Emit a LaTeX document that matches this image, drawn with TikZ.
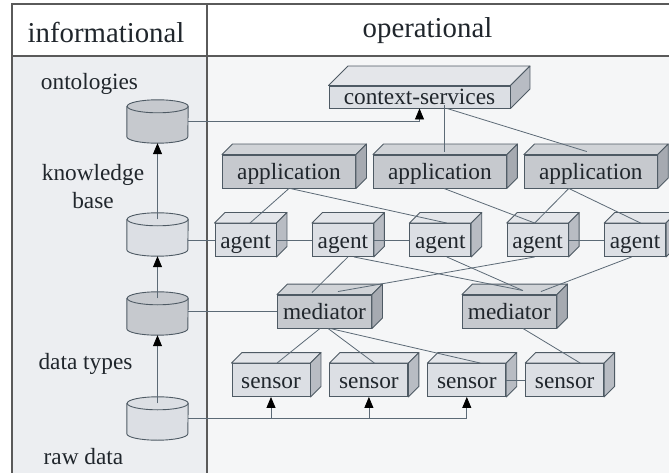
\documentclass[tikz,border=0pt]{standalone}
\usepackage{fontspec}
\setmainfont{Liberation Serif}
\definecolor{cinzaMoldura}{RGB}{90,90,90}
\definecolor{fundoInfo}{RGB}{236,238,241}
\definecolor{fundoOper}{RGB}{245,246,247}
\definecolor{bordaCaixa}{RGB}{78,90,100}
\definecolor{claroFrente}{RGB}{220,223,228}
\definecolor{claroTopo}{RGB}{228,230,234}
\definecolor{claroLado}{RGB}{184,188,195}
\definecolor{escuroFrente}{RGB}{198,201,206}
\definecolor{escuroTopo}{RGB}{208,211,215}
\definecolor{escuroLado}{RGB}{166,170,177}
\definecolor{linhaLig}{RGB}{92,106,118}
\definecolor{textoEsc}{RGB}{32,38,44}
\usetikzlibrary{arrows.meta,positioning,calc}
\tikzset{
  caixa/.style={rectangle, draw=bordaCaixa, line width=0.9pt, fill=claroFrente,
                inner sep=0pt, minimum height=33pt, text height=16pt, text depth=0pt,
                font=\fontsize{23.3}{28}\selectfont, text=textoEsc},
  caixaesc/.style={caixa, fill=escuroFrente},
  face/.style={draw=bordaCaixa, line width=0.9pt, line join=round, fill=#1},
  banco/.style={rectangle, inner sep=0pt, minimum width=61pt, minimum height=43pt},
  moldura/.style={draw=cinzaMoldura, line width=1.2pt},
  liga/.style={draw=linhaLig, line width=0.8pt},
  subida/.style={liga, -{Triangle[length=11pt,width=9pt,color=black]}},
  rotulo/.style={font=\fontsize{23.3}{28}\selectfont, text=textoEsc, inner sep=0pt},
  titulo/.style={font=\fontsize{28.8}{34}\selectfont, text=textoEsc, inner sep=0pt},
}
\begin{document}
\begin{tikzpicture}[x=1pt, y=-1pt]
  \useasboundingbox (0,0) rectangle (669,473);
  \fill[white] (0,0) rectangle (669,473);
  \fill[fundoInfo] (12,56) rectangle (207,473);
  \fill[fundoOper] (207,56) rectangle (669,473);
  \draw[moldura] (669,4) -- (12,4) -- (12,473);
  \draw[moldura] (12,56) -- (669,56);
  \draw[moldura] (207,4) -- (207,473);

  \node[titulo, anchor=base] (tinfo) at (106,43) {informational};
  \node[titulo, anchor=base] (toper) at (427.5,38) {operational};

  \node[rotulo, anchor=base] (lont) at (89.5,90) {ontologies};
  \node[rotulo, anchor=north, align=center] (lkb) at (93,164) {knowledge\\base};
  \node[rotulo, anchor=base] (ldt) at (85.5,369) {data types};
  \node[rotulo, anchor=base] (lraw) at (83.5,464) {raw data};

  \node[banco] (ont) at (157.5,121.5) {};
  \node[banco] (kb) at (157.5,234.5) {};
  \node[banco] (dtyp) at (157.5,313.5) {};
  \node[banco] (raw) at (157.5,418.5) {};
  \foreach \n/\c in {ont/escuroFrente, kb/claroFrente, dtyp/escuroFrente, raw/claroFrente}{
    \draw[face=\c] ([yshift=-6.5pt]\n.north west) -- ([yshift=6.5pt]\n.south west)
      arc[start angle=180, end angle=360, x radius=30.5pt, y radius=6.5pt]
      -- ([yshift=-6.5pt]\n.north east)
      arc[start angle=0, end angle=180, x radius=30.5pt, y radius=6.5pt] -- cycle;
    \draw[bordaCaixa, line width=0.9pt] ([yshift=-6.5pt]\n.north east)
      arc[start angle=0, end angle=-180, x radius=30.5pt, y radius=6.5pt];
  }
  \draw[subida] ([yshift=-6.5pt]kb.north) -- (ont.south);
  \draw[subida] ([yshift=-6.5pt]dtyp.north) -- (kb.south);
  \draw[subida] ([yshift=-6.5pt]raw.north) -- (dtyp.south);

  \node[caixa, minimum width=181pt, minimum height=22pt] (cs) at (419.5,97) {context-services};

  \node[caixaesc, minimum width=133pt] (app1) at (289,171.5) {application};
  \node[caixaesc, minimum width=133pt, right=17pt of app1] (app2) {application};
  \node[caixaesc, minimum width=133pt, right=17pt of app2] (app3) {application};

  \node[caixa, minimum width=61pt] (ag1) at (245.5,240) {agent};
  \node[caixa, minimum width=61pt, right=35.5pt of ag1] (ag2) {agent};
  \node[caixa, minimum width=61pt, right=35.5pt of ag2] (ag3) {agent};
  \node[caixa, minimum width=61pt, right=35.5pt of ag3] (ag4) {agent};
  \node[caixa, minimum width=61pt, right=35.5pt of ag4] (ag5) {agent};

  \node[caixaesc, minimum width=94pt] (med1) at (324.5,311.5) {mediator};
  \node[caixaesc, minimum width=94pt, right=90pt of med1] (med2) {mediator};

  \node[caixa, minimum width=78pt] (sen1) at (271,380) {sensor};
  \node[caixa, minimum width=78pt, right=19pt of sen1] (sen2) {sensor};
  \node[caixa, minimum width=78pt, right=19pt of sen2] (sen3) {sensor};
  \node[caixa, minimum width=78pt, right=19pt of sen3] (sen4) {sensor};

  \draw[face=claroTopo] (cs.north west) -- ++(19.5pt,19.5pt)
    -- ([shift={(19.5pt,19.5pt)}]cs.north east) -- (cs.north east) -- cycle;
  \draw[face=claroLado] (cs.north east) -- ++(19.5pt,19.5pt)
    -- ([shift={(19.5pt,19.5pt)}]cs.south east) -- (cs.south east) -- cycle;
  \foreach \n in {app1,app2,app3,med1,med2}{
    \draw[face=escuroTopo] (\n.north west) -- ++(10.5pt,10.5pt)
      -- ([shift={(10.5pt,10.5pt)}]\n.north east) -- (\n.north east) -- cycle;
    \draw[face=escuroLado] (\n.north east) -- ++(10.5pt,10.5pt)
      -- ([shift={(10.5pt,10.5pt)}]\n.south east) -- (\n.south east) -- cycle;
  }
  \foreach \n in {ag1,ag2,ag3,ag4,ag5,sen1,sen2,sen3,sen4}{
    \draw[face=claroTopo] (\n.north west) -- ++(10.5pt,10.5pt)
      -- ([shift={(10.5pt,10.5pt)}]\n.north east) -- (\n.north east) -- cycle;
    \draw[face=claroLado] (\n.north east) -- ++(10.5pt,10.5pt)
      -- ([shift={(10.5pt,10.5pt)}]\n.south east) -- (\n.south east) -- cycle;
  }

  \draw[subida] (ont.east) -| (cs.south);
  \draw[liga] (ag1.west -| kb.east) -- (ag1.west);
  \draw[liga] (med1.west -| dtyp.east) -- (med1.west);
  \draw[subida] (raw.east) -| (sen3.south);
  \draw[subida] (raw.east -| sen1.south) -- (sen1.south);
  \draw[subida] (raw.east -| sen2.south) -- (sen2.south);

  \draw[liga] ([shift={(4pt,3pt)}]app2.north) -- ([shift={(4pt,3pt)}]app2.north |- cs.south);
  \draw[liga] ([xshift=27.5pt]cs.south) -- ([shift={(-4pt,3pt)}]app3.north);
  \draw[liga] (app1.south) -- ([xshift=4.5pt]ag1.north);
  \draw[liga] ([xshift=1pt]app1.south) -- ([xshift=6.5pt]ag3.north);
  \draw[liga] ([xshift=4pt]app2.south) -- ([xshift=-3pt]ag4.north);
  \draw[liga] ([xshift=-22pt]app3.south) -- ([xshift=-3pt]ag4.north);
  \draw[liga] ([xshift=-22pt]app3.south) -- ([xshift=5.5pt]ag5.north);

  \draw[liga] (ag1) -- (ag2);
  \draw[liga] (ag2) -- (ag3);
  \draw[liga] (ag4) -- (ag5);

  \draw[liga] ([xshift=5pt]ag2.south) -- ([shift={(-12.5pt,2pt)}]med1.north);
  \draw[liga] ([xshift=11pt]ag2.south) -- ([shift={(13.5pt,4pt)}]med2.north);
  \draw[liga] ([xshift=6.5pt]ag3.south) -- ([shift={(13.5pt,4pt)}]med2.north);
  \draw[liga] ([xshift=-3pt]ag4.south) -- ([shift={(13.5pt,3pt)}]med1.north);
  \draw[liga] ([xshift=-3.5pt]ag5.south) -- ([shift={(31.5pt,3pt)}]med2.north);

  \draw[liga] ([xshift=-4.5pt]med1.south) -- ([xshift=6pt]sen1.north);
  \draw[liga] ([xshift=3.5pt]med1.south) -- ([xshift=5.5pt]sen2.north);
  \draw[liga] ([xshift=5.5pt]med1.south) -- ([xshift=13.5pt]sen3.north);
  \draw[liga] ([xshift=13.5pt]med2.south) -- ([xshift=15.5pt]sen4.north);
  \draw[liga] (sen3) -- (sen4);
\end{tikzpicture}
\end{document}
